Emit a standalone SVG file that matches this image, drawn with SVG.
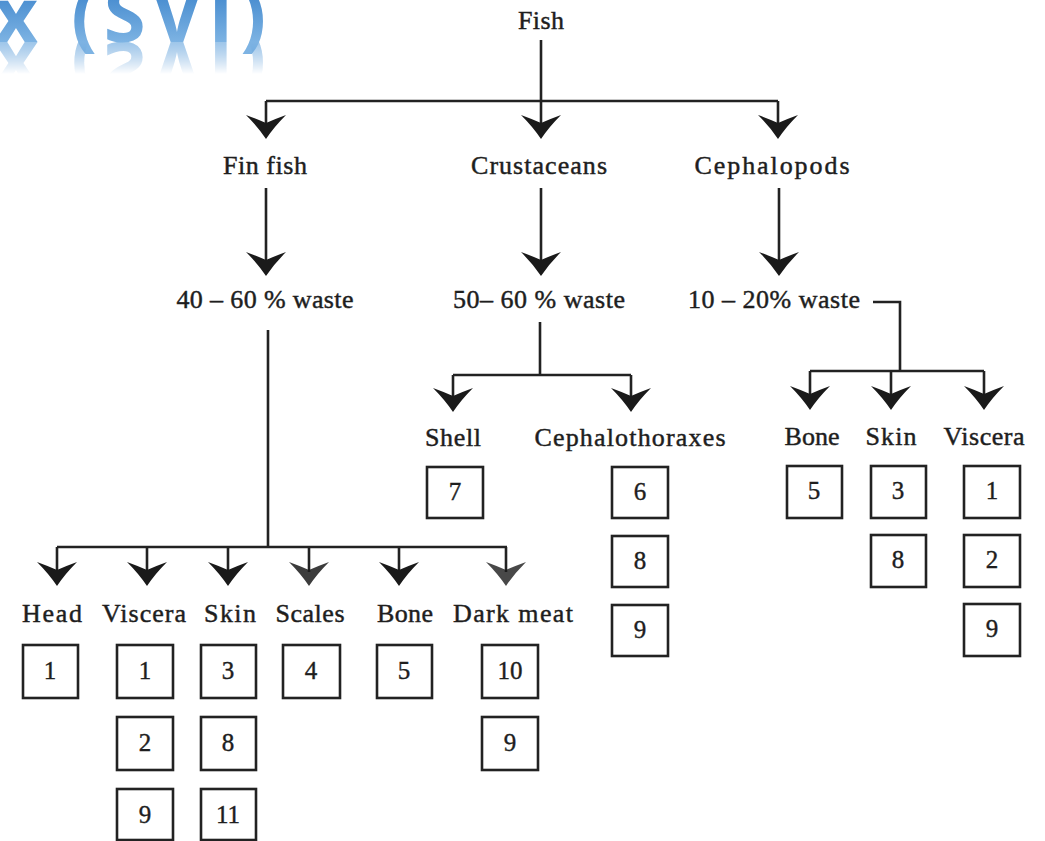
<svg xmlns="http://www.w3.org/2000/svg" xmlns:xlink="http://www.w3.org/1999/xlink" width="1045" height="841" viewBox="0 0 1045 841">
<defs>
<style>
.lbl{font-family:'Liberation Serif','DejaVu Serif','Noto Serif',serif;font-size:26px;fill:#1e1e1e;stroke:#1e1e1e;stroke-width:0.45;text-anchor:middle}
.num{font-family:'Liberation Serif','DejaVu Serif','Noto Serif',serif;font-size:25px;fill:#1e1e1e;stroke:#1e1e1e;stroke-width:0.4;text-anchor:middle}
.box{fill:#fff;stroke:#222;stroke-width:2.6}
.ln{fill:none;stroke:#222;stroke-width:2.6}
.wm{font-family:'Open Sans','DejaVu Sans',sans-serif;font-weight:bold;font-size:76px}
</style>
<path id="ah" d="M0,0 Q-8,-12 -20,-24 Q-9,-20 0,-16 Q9,-20 20,-24 Q8,-12 0,0 Z" fill="#1a1a1a"/>
<linearGradient id="wmg" x1="0" y1="-12" x2="0" y2="42" gradientUnits="userSpaceOnUse">
<stop offset="0" stop-color="#3f86cc"/><stop offset="1" stop-color="#7db3e3"/>
</linearGradient>
<linearGradient id="fadeg" x1="0" y1="42" x2="0" y2="74" gradientUnits="userSpaceOnUse">
<stop offset="0" stop-color="#fff" stop-opacity="0.75"/><stop offset="1" stop-color="#fff" stop-opacity="0"/>
</linearGradient>
<mask id="fade" maskUnits="userSpaceOnUse" x="-20" y="40" width="320" height="40">
<rect x="-20" y="42" width="320" height="34" fill="url(#fadeg)"/>
</mask>
</defs>
<rect width="1045" height="841" fill="#fff"/>

<g id="watermark">
<text id="wmtext" class="wm" x="-6" y="42" textLength="272" lengthAdjust="spacing" fill="url(#wmg)">x (SVI)</text>
<g mask="url(#fade)">
<use xlink:href="#wmtext" transform="translate(0,84) scale(1,-1)"/>
</g>
</g>

<g id="connectors">
<path class="ln" d="M541,40 V125"/>
<path class="ln" d="M266,101 H778 M266,101 V125 M778,101 V125"/>
<use xlink:href="#ah" x="541" y="139"/>
<use xlink:href="#ah" x="266" y="139"/>
<use xlink:href="#ah" x="778" y="139"/>
<path class="ln" d="M266,188 V262 M541,188 V262 M779,188 V262"/>
<use xlink:href="#ah" x="266" y="276"/>
<use xlink:href="#ah" x="541" y="276"/>
<use xlink:href="#ah" x="779" y="276"/>
<path class="ln" d="M268,330 V547 M57,547 H507 M57,547 V572 M147,547 V572 M228,547 V572 M309,547 V572 M399,547 V572 M506,547 V572"/>
<use xlink:href="#ah" x="57" y="586"/>
<use xlink:href="#ah" x="147" y="586"/>
<use xlink:href="#ah" x="228" y="586"/>
<use xlink:href="#ah" x="309" y="586" opacity="0.85"/>
<use xlink:href="#ah" x="399" y="586"/>
<use xlink:href="#ah" x="506" y="586" opacity="0.8"/>
<path class="ln" d="M540,322 V375 M453,375 H631 M453,375 V398 M631,375 V398"/>
<use xlink:href="#ah" x="453" y="412"/>
<use xlink:href="#ah" x="631" y="412"/>
<path class="ln" d="M873,302 H900 V371 M810,371 H984 M810,371 V396 M891,371 V396 M984,371 V396"/>
<use xlink:href="#ah" x="810" y="410"/>
<use xlink:href="#ah" x="891" y="410"/>
<use xlink:href="#ah" x="984" y="410"/>
</g>

<g id="fish"><text class="lbl" x="541" y="29" textLength="46">Fish</text></g>
<g id="finfish"><text class="lbl" x="265" y="174" textLength="84">Fin fish</text></g>
<g id="crustaceans"><text class="lbl" x="539" y="174" textLength="136">Crustaceans</text></g>
<g id="cephalopods"><text class="lbl" x="772" y="174" textLength="155">Cephalopods</text></g>
<g id="finfish-waste"><text class="lbl" x="265" y="308" textLength="177">40 – 60 % waste</text></g>
<g id="crust-waste"><text class="lbl" x="539" y="308" textLength="172">50– 60 % waste</text></g>
<g id="ceph-waste"><text class="lbl" x="774" y="308" textLength="172">10 – 20% waste</text></g>

<g id="shell">
<text class="lbl" x="453" y="446" textLength="56">Shell</text>
<rect class="box" x="427" y="467" width="56" height="51"/><text class="num" x="455" y="500">7</text>
</g>
<g id="cephalothoraxes">
<text class="lbl" x="630" y="446" textLength="191">Cephalothoraxes</text>
<rect class="box" x="612" y="467" width="56" height="51"/><text class="num" x="640" y="500">6</text>
<rect class="box" x="612" y="536" width="56" height="51"/><text class="num" x="640" y="569">8</text>
<rect class="box" x="612" y="605" width="56" height="51"/><text class="num" x="640" y="638">9</text>
</g>

<g id="ceph-bone">
<text class="lbl" x="812" y="445" textLength="55">Bone</text>
<rect class="box" x="787" y="466" width="55" height="52"/><text class="num" x="814" y="499">5</text>
</g>
<g id="ceph-skin">
<text class="lbl" x="891" y="445" textLength="51">Skin</text>
<rect class="box" x="871" y="466" width="55" height="52"/><text class="num" x="898" y="499">3</text>
<rect class="box" x="871" y="535" width="55" height="52"/><text class="num" x="898" y="568">8</text>
</g>
<g id="ceph-viscera">
<text class="lbl" x="984" y="445" textLength="81">Viscera</text>
<rect class="box" x="964" y="466" width="56" height="52"/><text class="num" x="992" y="499">1</text>
<rect class="box" x="964" y="535" width="56" height="52"/><text class="num" x="992" y="568">2</text>
<rect class="box" x="964" y="604" width="56" height="52"/><text class="num" x="992" y="637">9</text>
</g>

<g id="head">
<text class="lbl" x="52" y="622" textLength="60">Head</text>
<rect class="box" x="23" y="645" width="55" height="53"/><text class="num" x="50" y="679">1</text>
</g>
<g id="fin-viscera">
<text class="lbl" x="144" y="622" textLength="84">Viscera</text>
<rect class="box" x="117" y="645" width="56" height="53"/><text class="num" x="145" y="679">1</text>
<rect class="box" x="117" y="717" width="56" height="53"/><text class="num" x="145" y="751">2</text>
<rect class="box" x="117" y="789" width="56" height="51"/><text class="num" x="145" y="823">9</text>
</g>
<g id="fin-skin">
<text class="lbl" x="230" y="622" textLength="52">Skin</text>
<rect class="box" x="201" y="645" width="55" height="53"/><text class="num" x="228" y="679">3</text>
<rect class="box" x="201" y="717" width="55" height="53"/><text class="num" x="228" y="751">8</text>
<rect class="box" x="201" y="789" width="55" height="51"/><text class="num" x="228" y="823">11</text>
</g>
<g id="scales">
<text class="lbl" x="310" y="622" textLength="69">Scales</text>
<rect class="box" x="283" y="645" width="57" height="53"/><text class="num" x="311" y="679">4</text>
</g>
<g id="fin-bone">
<text class="lbl" x="405" y="622" textLength="56">Bone</text>
<rect class="box" x="377" y="645" width="55" height="53"/><text class="num" x="404" y="679">5</text>
</g>
<g id="darkmeat">
<text class="lbl" x="513" y="622" textLength="120">Dark meat</text>
<rect class="box" x="482" y="645" width="56" height="53"/><text class="num" x="510" y="679">10</text>
<rect class="box" x="482" y="717" width="56" height="53"/><text class="num" x="510" y="751">9</text>
</g>
</svg>
